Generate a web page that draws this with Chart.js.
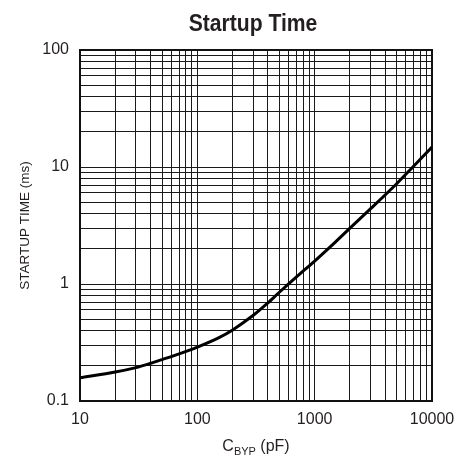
<!DOCTYPE html>
<html>
<head>
<meta charset="utf-8">
<script src="https://cdn.jsdelivr.net/npm/chart.js@4.4.1/dist/chart.umd.min.js"></script>
<style>
    html, body { margin: 0; padding: 0; background: #fff; }
</style>
</head>
<body>
<canvas id="startup-chart" width="465" height="460"></canvas>
<script>
// values
var capValues = [10, 20, 30, 40, 50, 70, 100, 150, 200, 300, 400, 500, 700, 1000, 1500, 2000, 3000, 5000, 7000, 10000];
var startupTimes = [0.158, 0.177, 0.193, 0.21, 0.226, 0.253, 0.289, 0.345, 0.405, 0.54, 0.69, 0.85, 1.15, 1.57, 2.28, 3.0, 4.4, 7.2, 10.2, 14.8];
var xTickLabels = [10, 100, 1000, 10000];
var yTickLabels = [0.1, 1, 10, 100];

var textColor = '#231f20';
var gridColor = '#1a1a1a';
var labelFont = '"Liberation Sans", Arial, sans-serif';

// 1..9 x every decade between the first and last label
function decadeTicks(labels) {
    var ticks = [];
    for (var i = 0; i < labels.length - 1; i++) {
        for (var k = 1; k < 10; k++) {
            ticks.push({ value: +(labels[i] * k).toPrecision(6) });
        }
    }
    ticks.push({ value: labels[labels.length - 1] });
    return ticks;
}

var points = capValues.map(function (c, i) {
    return { x: c, y: startupTimes[i] };
});

var decorations = {
    id: 'decorations',
    beforeDatasetsDraw: function (chart) {
        var ctx = chart.ctx, a = chart.chartArea;
        ctx.save();
        ctx.strokeStyle = '#111';
        ctx.lineWidth = 2;
        ctx.strokeRect(a.left, a.top, a.right - a.left, a.bottom - a.top);
        ctx.restore();
    },
    afterDraw: function (chart) {
        var ctx = chart.ctx, a = chart.chartArea;
        var cx = (a.left + a.right) / 2;
        ctx.save();
        ctx.fillStyle = textColor;
        ctx.textBaseline = 'alphabetic';
        ctx.textAlign = 'center';
        // narrow bold title: squeeze Liberation Sans horizontally
        ctx.save();
        ctx.translate(cx - 3, 31);
        ctx.scale(0.88, 1);
        ctx.font = 'bold 24px ' + labelFont;
        ctx.fillText('Startup Time', 0, 0);
        ctx.restore();

        // x axis title, C with subscript BYP
        var parts = [['C', 16, 0], ['BYP', 11, 4], [' (pF)', 16, 0]];
        var total = 0;
        parts.forEach(function (p) {
            ctx.font = p[1] + 'px ' + labelFont;
            total += ctx.measureText(p[0]).width;
        });
        var x = cx - total / 2;
        ctx.textAlign = 'left';
        parts.forEach(function (p) {
            ctx.font = p[1] + 'px ' + labelFont;
            ctx.fillText(p[0], x, 451 + p[2]);
            x += ctx.measureText(p[0]).width;
        });
        ctx.restore();
    }
};

var startupChart = new Chart(document.getElementById('startup-chart'), {
    type: 'scatter',
    data: {
        datasets: [{
            data: points,
            showLine: true,
            borderColor: '#000',
            borderWidth: 3,
            pointRadius: 0,
            tension: 0.3
        }]
    },
    options: {
        responsive: false,
        animation: false,
        layout: { padding: { top: 50, right: 33, left: 0, bottom: 0 } },
        plugins: {
            legend: { display: false },
            tooltip: { enabled: false },
            title: { display: false }
        },
        scales: {
            x: {
                type: 'logarithmic',
                min: xTickLabels[0],
                max: xTickLabels[xTickLabels.length - 1],
                afterBuildTicks: function (scale) { scale.ticks = decadeTicks(xTickLabels); },
                afterFit: function (scale) { scale.height = 59; },
                grid: { color: gridColor, lineWidth: 1, drawTicks: false },
                border: { display: false },
                ticks: {
                    autoSkip: false,
                    maxRotation: 0,
                    padding: 9,
                    color: textColor,
                    font: { family: labelFont, size: 16 },
                    callback: function (v) { return xTickLabels.indexOf(v) >= 0 ? String(v) : ''; }
                }
            },
            y: {
                type: 'logarithmic',
                min: yTickLabels[0],
                max: yTickLabels[yTickLabels.length - 1],
                afterBuildTicks: function (scale) { scale.ticks = decadeTicks(yTickLabels); },
                afterFit: function (scale) { scale.width = 80; },
                grid: { color: gridColor, lineWidth: 1, drawTicks: false },
                border: { display: false },
                ticks: {
                    autoSkip: false,
                    padding: 11,
                    color: textColor,
                    font: { family: labelFont, size: 16 },
                    callback: function (v) { return yTickLabels.indexOf(v) >= 0 ? String(v) : ''; }
                },
                title: {
                    display: true,
                    text: 'STARTUP TIME (ms)',
                    color: textColor,
                    font: { family: labelFont, size: 13.5 },
                    padding: { top: 17, bottom: 0 }
                }
            }
        }
    },
    plugins: [decorations]
});
</script>
</body>
</html>
